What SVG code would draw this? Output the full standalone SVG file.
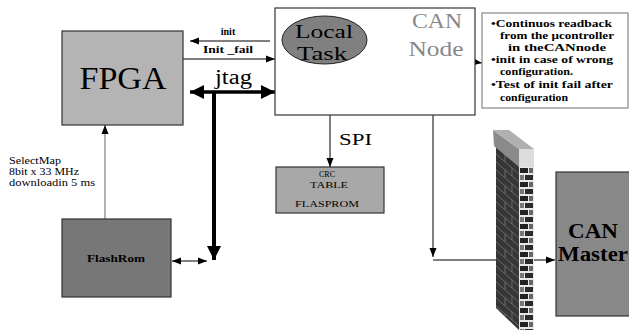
<svg xmlns="http://www.w3.org/2000/svg" width="629" height="330" viewBox="0 0 629 330">
<defs>
<style>
text{font-family:"Liberation Serif","Times New Roman",serif;fill:#000}
.b{font-weight:bold}
.ln{stroke:#000;stroke-width:1;fill:none}
.box{stroke:#333;stroke-width:1.2}
.gray{fill:#888}
</style>
<marker id="ah" markerUnits="userSpaceOnUse" markerWidth="10" markerHeight="8" refX="9" refY="4" orient="auto-start-reverse" viewBox="0 0 10 8"><path d="M0,0.5 L9,4 L0,7.5z" fill="#000"/></marker>
<marker id="big" markerUnits="userSpaceOnUse" markerWidth="16" markerHeight="14" refX="14" refY="7" orient="auto-start-reverse" viewBox="0 0 16 14"><path d="M0,0 L14,7 L0,14z" fill="#000"/></marker>
<pattern id="end" width="15" height="14" patternUnits="userSpaceOnUse" x="519" y="167">
<rect width="15" height="14" fill="#e8e8e8"/>
<rect x="1" y="1" width="8" height="5" fill="#222"/>
<rect x="10" y="1" width="4" height="5" fill="#666"/>
<rect x="1" y="8" width="4" height="5" fill="#777"/>
<rect x="6" y="8" width="8" height="5" fill="#2a2a2a"/>
</pattern>
<clipPath id="side"><polygon points="496,146 519,166 519,330 496,308"/></clipPath>
</defs>

<g id="connectors">
<line class="ln" x1="270" y1="41" x2="190" y2="41" marker-end="url(#ah)"/>
<line class="ln" x1="183" y1="59" x2="275" y2="59" marker-end="url(#ah)"/>
<line x1="190" y1="92" x2="275" y2="92" stroke="#000" stroke-width="3.5" marker-start="url(#big)" marker-end="url(#big)"/>
<line x1="214" y1="92" x2="214" y2="260" stroke="#000" stroke-width="4" marker-end="url(#big)"/>
<line x1="105" y1="219" x2="105" y2="125" stroke="#999" stroke-width="1.5" marker-end="url(#ah)"/>
<line class="ln" x1="172" y1="261" x2="207" y2="261" marker-start="url(#ah)" marker-end="url(#ah)"/>
<line class="ln" x1="330" y1="115" x2="330" y2="167" marker-end="url(#ah)"/>
<line class="ln" x1="433" y1="115" x2="433" y2="257" marker-end="url(#ah)"/>
<line class="ln" x1="433" y1="260" x2="555" y2="260" marker-end="url(#ah)"/>
<line class="ln" x1="366" y1="47" x2="482" y2="63" marker-end="url(#ah)"/>
<text class="b" x="228" y="35" font-size="10" text-anchor="middle">init</text>
<text class="b" x="228" y="53" font-size="10" text-anchor="middle" textLength="50" lengthAdjust="spacingAndGlyphs">Init _fail</text>
<text x="215" y="84" font-size="20" textLength="37" lengthAdjust="spacingAndGlyphs">jtag</text>
<text x="339" y="145" font-size="17" textLength="33" lengthAdjust="spacingAndGlyphs">SPI</text>
<text x="9" y="164" font-size="9.5" textLength="52" lengthAdjust="spacingAndGlyphs">SelectMap</text>
<text x="9" y="175" font-size="9.5" textLength="70" lengthAdjust="spacingAndGlyphs">8bit x 33 MHz</text>
<text x="9" y="186" font-size="9.5" textLength="86" lengthAdjust="spacingAndGlyphs">downloadin 5 ms</text>
</g>

<g id="fpga">
<rect class="box" x="62" y="31" width="121" height="94" fill="#b4b4b4"/>
<text x="123" y="89" font-size="32" text-anchor="middle" textLength="87" lengthAdjust="spacingAndGlyphs">FPGA</text>
</g>

<g id="can-node">
<rect class="box" x="275" y="8" width="200" height="107" fill="#fff"/>
<text class="gray" x="437" y="28" font-size="20" text-anchor="middle" textLength="50" lengthAdjust="spacingAndGlyphs">CAN</text>
<text class="gray" x="436" y="56" font-size="20" text-anchor="middle" textLength="55" lengthAdjust="spacingAndGlyphs">Node</text>
</g>

<g id="local-task">
<ellipse cx="324.5" cy="40" rx="42.5" ry="24" fill="#808080" stroke="#222" stroke-width="1"/>
<text x="324" y="38" font-size="19" text-anchor="middle" textLength="58" lengthAdjust="spacingAndGlyphs">Local</text>
<text x="322" y="60" font-size="19" text-anchor="middle" textLength="50" lengthAdjust="spacingAndGlyphs">Task</text>
</g>

<g id="notes">
<rect x="482" y="13" width="146" height="95" fill="#fff" stroke="#888" stroke-width="1.2"/>
<text class="b" x="491" y="27" font-size="10.5" textLength="121" lengthAdjust="spacingAndGlyphs">•Continuos readback</text>
<text class="b" x="500" y="39" font-size="10.5" textLength="114" lengthAdjust="spacingAndGlyphs">from the μcontroller</text>
<text class="b" x="508" y="51" font-size="10.5" textLength="98" lengthAdjust="spacingAndGlyphs">in theCANnode</text>
<text class="b" x="491" y="63" font-size="10.5" textLength="122" lengthAdjust="spacingAndGlyphs">•init in case of wrong</text>
<text class="b" x="500" y="75" font-size="10.5" textLength="73" lengthAdjust="spacingAndGlyphs">configuration.</text>
<text class="b" x="491" y="88" font-size="10.5" textLength="122" lengthAdjust="spacingAndGlyphs">•Test of init fail after</text>
<text class="b" x="500" y="101" font-size="10.5" textLength="68" lengthAdjust="spacingAndGlyphs">configuration</text>
</g>

<g id="flashrom">
<rect class="box" x="62" y="219" width="109" height="78" fill="#777"/>
<text class="b" x="116" y="262" font-size="11" text-anchor="middle" textLength="58" lengthAdjust="spacingAndGlyphs">FlashRom</text>
</g>

<g id="crc-table">
<rect class="box" x="276" y="167" width="108" height="46" fill="#a8a8a8"/>
<text x="327" y="177" font-size="8" text-anchor="middle">CRC</text>
<text x="329" y="188" font-size="8" text-anchor="middle" textLength="38" lengthAdjust="spacingAndGlyphs">TABLE</text>
<text x="327" y="207" font-size="8" text-anchor="middle" textLength="64" lengthAdjust="spacingAndGlyphs">FLASPROM</text>
</g>

<g id="firewall">
<g clip-path="url(#side)">
<rect x="495" y="140" width="25" height="192" fill="#363636"/>
<path stroke="#6a6a6a" stroke-width="1" fill="none" d="M496,154L519,174M496,162L519,182M496,170L519,190M496,178L519,198M496,186L519,206M496,194L519,214M496,202L519,222M496,210L519,230M496,218L519,238M496,226L519,246M496,234L519,254M496,242L519,262M496,250L519,270M496,258L519,278M496,266L519,286M496,274L519,294M496,282L519,302M496,290L519,310M496,298L519,318M496,306L519,326M496,314L519,334
M505,154V162M512,168V176M505,170V178M512,184V192M505,186V194M512,200V208M505,202V210M512,216V224M505,218V226M512,232V240M505,234V242M512,248V256M505,250V258M512,264V272M505,266V274M512,280V288M505,282V290M512,296V304M505,298V306M512,312V320M505,314V322"/>
</g>
<rect x="519" y="167" width="15" height="163" fill="url(#end)"/>
<polygon points="493,130 494,146 519,167 519,149" fill="#8a8a8a"/>
<polygon points="493,130 509,130 534,149 519,149" fill="#b0b0b0"/>
<rect x="519" y="149" width="15" height="18" fill="#dcdcdc"/>
</g>

<g id="can-master">
<rect class="box" x="556" y="172" width="80" height="144" fill="#888"/>
<text class="b" x="593" y="238" font-size="20" text-anchor="middle" textLength="50" lengthAdjust="spacingAndGlyphs">CAN</text>
<text class="b" x="558" y="261" font-size="20" textLength="70" lengthAdjust="spacingAndGlyphs">Master</text>
</g>
</svg>
